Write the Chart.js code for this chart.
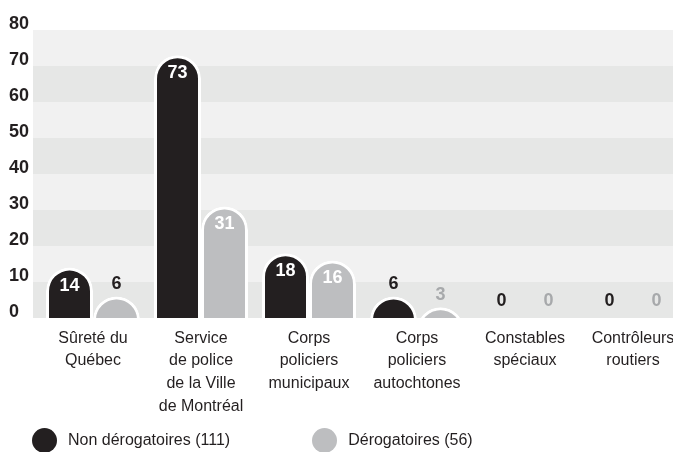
<!DOCTYPE html>
<html lang="fr">
<head>
<meta charset="utf-8">
<script src="https://cdn.jsdelivr.net/npm/chart.js@4/dist/chart.umd.min.js"></script>
<style>
  html, body { margin: 0; padding: 0; background: #fff; overflow: hidden; }
  #wrap { position: relative; width: 687px; height: 452px; }
  #legende { position: absolute; left: 32px; top: 427px; display: flex; font: 16px "Liberation Sans", Arial, sans-serif; color: #231f20; }
  .item { display: flex; align-items: center; height: 26px; }
  .item span.pt { width: 25px; height: 25px; border-radius: 50%; margin-right: 11px; }
  .item + .item { margin-left: 82px; }
</style>
</head>
<body>
<div id="wrap">
  <canvas id="graphique"></canvas>
  <div id="legende"></div>
</div>
<script>
(function () {
  const categories = [
    ['Sûreté du', 'Québec'],
    ['Service', 'de police', 'de la Ville', 'de Montréal'],
    ['Corps', 'policiers', 'municipaux'],
    ['Corps', 'policiers', 'autochtones'],
    ['Constables', 'spéciaux'],
    ['Contrôleurs', 'routiers']
  ];
  const nonDerogatoires = [14, 73, 18, 6, 0, 0];
  const derogatoires = [6, 31, 16, 3, 0, 0];
  const seriesLabels = ['Non dérogatoires (111)', 'Dérogatoires (56)'];
  const yTicks = [0, 10, 20, 30, 40, 50, 60, 70, 80];

  const NOIR = '#231f20';
  const GRIS = '#bdbec0';
  const GRIS_TEXTE = '#a7a9ab';
  const police = '"Liberation Sans", Arial, sans-serif';

  // bandes horizontales alternées derrière les barres
  const bandes = {
    id: 'bandes',
    beforeDatasetsDraw(chart) {
      const { ctx, chartArea, scales: { y } } = chart;
      for (let i = 0; i < yTicks.length - 1; i++) {
        const bas = y.getPixelForValue(yTicks[i]);
        const haut = y.getPixelForValue(yTicks[i + 1]);
        ctx.fillStyle = i % 2 === 0 ? '#e6e7e6' : '#f1f1f1';
        ctx.fillRect(33, haut, chartArea.right - 33, bas - haut);
      }
    }
  };

  // valeurs sur / dans les barres
  const valeurs = {
    id: 'valeurs',
    afterDatasetsDraw(chart) {
      const { ctx } = chart;
      ctx.save();
      ctx.font = `bold 18px ${police}`;
      ctx.textAlign = 'center';
      ctx.textBaseline = 'middle';
      chart.data.datasets.forEach((ds, di) => {
        chart.getDatasetMeta(di).data.forEach((bar, i) => {
          const v = ds.data[i];
          let y, couleur;
          if (v >= 10) {
            y = bar.y + 18;
            couleur = '#fff';
          } else {
            y = bar.y - (v === 0 ? 17 : 12);
            couleur = di === 0 || v >= 5 ? NOIR : GRIS_TEXTE;
          }
          ctx.fillStyle = couleur;
          ctx.fillText(String(v), bar.x, y);
        });
      });
      ctx.restore();
    }
  };

  const chart = new Chart(document.getElementById('graphique'), {
    type: 'bar',
    data: {
      labels: categories,
      datasets: [
        { label: seriesLabels[0], data: nonDerogatoires, backgroundColor: NOIR },
        { label: seriesLabels[1], data: derogatoires, backgroundColor: GRIS }
      ]
    },
    options: {
      responsive: true,
      maintainAspectRatio: false,
      animation: false,
      events: [],
      layout: { padding: { left: 9, top: 30, right: 0, bottom: 34 } },
      datasets: {
        bar: {
          base: -20,
          clip: 0,
          borderColor: '#fff',
          borderWidth: 3,
          borderRadius: 30,
          borderSkipped: 'start',
          categoryPercentage: 0.87,
          barPercentage: 1
        }
      },
      plugins: {
        legend: { display: false },
        tooltip: { enabled: false }
      },
      scales: {
        x: {
          grid: { display: false, drawTicks: false },
          border: { display: false },
          ticks: { color: NOIR, padding: 9, maxRotation: 0, autoSkip: false, font: { family: police, size: 16, lineHeight: 1.42 } },
          afterFit(s) { s.height = 100; }
        },
        y: {
          min: 0,
          max: 80,
          grid: { display: false, drawTicks: false },
          border: { display: false },
          afterBuildTicks(s) { s.ticks = yTicks.map(v => ({ value: v })); },
          afterFit(s) { s.width = 30; },
          ticks: { color: NOIR, crossAlign: 'far', labelOffset: -6, padding: 0, font: { family: police, size: 18, weight: 'bold' } }
        }
      }
    },
    plugins: [bandes, valeurs]
  });

  // légende HTML
  const leg = document.getElementById('legende');
  chart.data.datasets.forEach(ds => {
    const item = document.createElement('div');
    item.className = 'item';
    item.innerHTML = `<span class="pt" style="background:${ds.backgroundColor}"></span>${ds.label}`;
    leg.appendChild(item);
  });
})();
</script>
</body>
</html>
